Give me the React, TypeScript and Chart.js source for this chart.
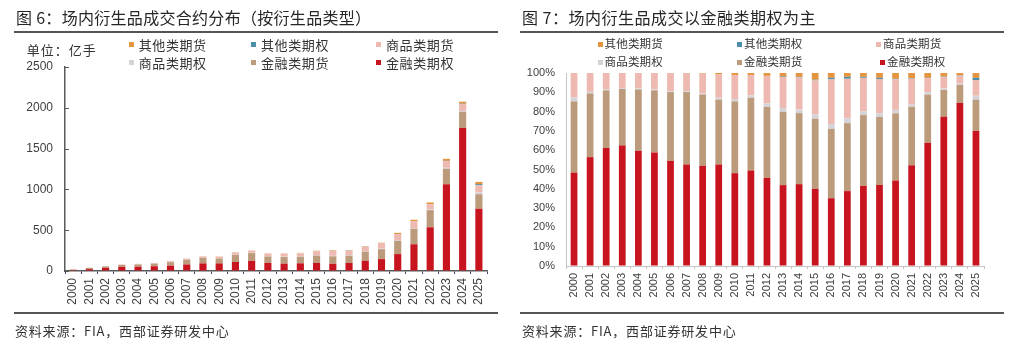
import React, { useEffect, useRef } from "react";
import { Chart, registerables } from "chart.js";

Chart.register(...registerables);

// ---- categories ----
const years = [
  "2000", "2001", "2002", "2003", "2004", "2005", "2006", "2007", "2008", "2009",
  "2010", "2011", "2012", "2013", "2014", "2015", "2016", "2017", "2018", "2019",
  "2020", "2021", "2022", "2023", "2024", "2025",
];

// ---- series, listed bottom-of-stack first ----
const seriesNames = ["金融类期权", "金融类期货", "商品类期权", "商品类期货", "其他类期权", "其他类期货"];
const seriesColors = ["#C8141E", "#BB9B7C", "#D5D3D8", "#EDB9B0", "#4A8FA6", "#E5943F"];

// Fig. 6: traded volume, 亿手
const volFinOptions = [10.6, 23.1, 37.3, 50.6, 52.5, 58.2, 65.4, 80.5, 93.4, 93.6, 110.6, 124.7, 98.7, 89.7, 94.1, 99.2, 88.8, 98.6, 125.7, 145.7, 207.3, 327.8, 535.9, 1062.9, 1751.3, 763.3];
const volFinFutures = [8.1, 13.5, 18.2, 23.7, 28.0, 31.9, 42.7, 57.4, 66.6, 59.8, 85.6, 95.0, 79.3, 81.3, 81.7, 90.0, 91.1, 89.4, 111.2, 122.1, 162.9, 189.7, 210.0, 191.1, 197.1, 178.0];
const volComOptions = [0.4, 0.3, 0.3, 0.4, 0.4, 0.5, 0.6, 0.8, 0.9, 1.8, 2.8, 3.0, 3.9, 4.3, 4.4, 5.5, 6.3, 6.4, 5.5, 6.2, 8.4, 7.5, 10.1, 11.0, 12.5, 21.8];
const volComFutures = [2.8, 4.0, 5.2, 6.3, 7.0, 8.4, 11.3, 14.4, 18.5, 21.4, 28.8, 26.7, 30.9, 34.2, 36.6, 43.9, 58.4, 52.1, 53.0, 62.1, 73.9, 84.2, 61.3, 82.5, 85.1, 88.5];
const volOtherOptions = [0, 0, 0, 0, 0, 0, 0, 0, 0, 0, 0, 0, 0, 0.6, 0.7, 0.7, 2.0, 2.5, 1.5, 2.1, 1.4, 1.3, 1.7, 2.8, 4.2, 13.1];
const volOtherFutures = [0, 0, 0, 0, 0, 0, 0, 0, 0.5, 1.4, 2.3, 2.5, 3.2, 3.9, 4.4, 8.7, 6.3, 5.1, 6.1, 8.7, 14.0, 17.6, 21.0, 24.8, 24.9, 27.3];

// Fig. 7: share of traded volume, %
const shareFinOptions = [48.4, 56.4, 61.2, 62.5, 59.7, 58.8, 54.5, 52.6, 51.9, 52.6, 48.1, 49.5, 45.7, 41.9, 42.4, 40.0, 35.1, 38.8, 41.5, 42.0, 44.3, 52.2, 63.8, 77.3, 84.4, 69.9];
const shareFinFutures = [36.9, 33.0, 29.8, 29.2, 31.8, 32.2, 35.6, 37.5, 37.0, 33.6, 37.2, 37.7, 36.7, 38.0, 36.8, 36.3, 36.0, 35.2, 36.7, 35.2, 34.8, 30.2, 25.0, 13.9, 9.5, 16.3];
const shareComOptions = [2.0, 0.8, 0.5, 0.5, 0.5, 0.5, 0.5, 0.5, 0.5, 1.0, 1.2, 1.2, 1.8, 2.0, 2.0, 2.2, 2.5, 2.5, 1.8, 1.8, 1.8, 1.2, 1.2, 0.8, 0.6, 2.0];
const shareComFutures = [12.7, 9.8, 8.5, 7.8, 8.0, 8.5, 9.4, 9.4, 10.3, 12.0, 12.5, 10.6, 14.3, 16.0, 16.5, 17.7, 23.1, 20.5, 17.5, 17.9, 15.8, 13.4, 7.3, 6.0, 4.1, 8.1];
const shareOtherOptions = [0, 0, 0, 0, 0, 0, 0, 0, 0, 0, 0, 0, 0, 0.3, 0.3, 0.3, 0.8, 1.0, 0.5, 0.6, 0.3, 0.2, 0.2, 0.2, 0.2, 1.2];
const shareOtherFutures = [0, 0, 0, 0, 0, 0, 0, 0, 0.3, 0.8, 1.0, 1.0, 1.5, 1.8, 2.0, 3.5, 2.5, 2.0, 2.0, 2.5, 3.0, 2.8, 2.5, 1.8, 1.2, 2.5];

// ---- axis settings ----
const volumeMax = 2500;
const volumeStep = 500;
const shareMax = 100;
const shareStep = 10;

const FONT_CJK = '"Noto Sans CJK SC", "Noto Sans", sans-serif';
const FONT_NUM = '"Liberation Sans", Arial, sans-serif';
const FONT_NARROW = '"Liberation Sans Narrow", "Liberation Sans", Arial, sans-serif';

// short tick marks drawn on the inner side of the value axis
const innerYTicks = {
  id: "innerYTicks",
  afterDraw(chart: any, _args: any, opts: any) {
    if (!opts || !opts.length) return;
    const s = chart.scales.y;
    const ctx = chart.ctx;
    ctx.save();
    ctx.strokeStyle = opts.color;
    ctx.lineWidth = opts.width;
    s.ticks.forEach((t: any) => {
      const py = Math.round(s.getPixelForValue(t.value)) + 0.5;
      ctx.beginPath();
      ctx.moveTo(s.right, py);
      ctx.lineTo(s.right + opts.length, py);
      ctx.stroke();
    });
    ctx.restore();
  },
};

type Frame = {
  padTop: number;
  padRight: number;
  yWidth: number;
  xHeight: number;
  barPct: number;
  yMax: number;
  yStep: number;
  yFmt: (v: number) => string;
  yFont: any;
  xFont: any;
  yPad: number;
  axisColor: string;
  axisWidth: number;
  tickColor: string;
  innerTick: number;
};

function stackedConfig(series: number[][], f: Frame): any {
  return {
    type: "bar",
    data: {
      labels: years,
      datasets: series.map((values, i) => ({
        label: seriesNames[i],
        data: values,
        backgroundColor: seriesColors[i],
        borderWidth: 0,
        barPercentage: f.barPct,
        categoryPercentage: 1,
      })),
    },
    options: {
      responsive: false,
      animation: false,
      devicePixelRatio: 1,
      events: [],
      layout: { padding: { top: f.padTop, right: f.padRight, bottom: 0, left: 0 } },
      plugins: {
        legend: { display: false },
        tooltip: { enabled: false },
        innerYTicks: { length: f.innerTick, color: f.axisColor, width: 1 },
      },
      scales: {
        x: {
          stacked: true,
          afterFit: (s: any) => {
            s.height = f.xHeight;
          },
          grid: {
            display: true,
            drawOnChartArea: false,
            drawTicks: true,
            tickLength: 3,
            color: f.tickColor,
            offset: true,
          },
          border: { display: true, color: f.axisColor, width: f.axisWidth },
          ticks: {
            autoSkip: false,
            minRotation: 90,
            maxRotation: 90,
            padding: 4,
            color: "#404040",
            font: f.xFont,
          },
        },
        y: {
          stacked: true,
          min: 0,
          max: f.yMax,
          afterFit: (s: any) => {
            s.width = f.yWidth;
          },
          grid: { display: true, drawOnChartArea: false, drawTicks: false },
          border: { display: true, color: f.axisColor, width: f.axisWidth },
          ticks: {
            stepSize: f.yStep,
            padding: f.yPad,
            color: "#404040",
            font: f.yFont,
            callback: (v: any) => f.yFmt(Number(v)),
          },
        },
      },
    },
    plugins: [innerYTicks],
  };
}

function BarCanvas({ left, width, config }: { left: number; width: number; config: () => any }) {
  const ref = useRef<HTMLCanvasElement>(null);
  useEffect(() => {
    const chart = new Chart(ref.current as HTMLCanvasElement, config());
    return () => chart.destroy();
  }, []);
  return (
    <canvas
      ref={ref}
      width={width}
      height={354}
      style={{ position: "absolute", left, top: 0, width, height: 354 }}
    />
  );
}

function Label({ x, cy, size, spacing = 0, children, color = "#333" }: any) {
  return (
    <div
      style={{
        position: "absolute",
        left: x,
        top: cy - size * 0.75,
        height: size * 1.5,
        lineHeight: `${size * 1.5}px`,
        fontSize: size,
        letterSpacing: spacing,
        whiteSpace: "nowrap",
        color,
      }}
    >
      {children}
    </div>
  );
}

function Rule({ x1, x2, y }: { x1: number; x2: number; y: number }) {
  return (
    <div style={{ position: "absolute", left: x1, top: y - 1, width: x2 - x1, height: 2, background: "#555" }} />
  );
}

function LegendEntry({ x, cy, idx, size, gap, spacing }: any) {
  return (
    <>
      <div
        style={{
          position: "absolute",
          left: x,
          top: cy - 2.5,
          width: 5,
          height: 5,
          background: seriesColors[idx],
        }}
      />
      <Label x={x + 5 + gap} cy={cy} size={size} spacing={spacing}>
        {seriesNames[idx]}
      </Label>
    </>
  );
}

// legend order: top of stack first, three per row
const legendOrder = [5, 4, 3, 2, 1, 0];

export default function App() {
  const leftCols = [128.7, 251, 376];
  const rightCols = [597.5, 737, 876];

  return (
    <div
      style={{
        position: "fixed",
        left: 0,
        top: 0,
        width: 1025,
        height: 354,
        background: "#fff",
        overflow: "hidden",
        fontFamily: FONT_CJK,
      }}
    >
      <BarCanvas
        left={0}
        width={512}
        config={() =>
          stackedConfig(
            [volFinOptions, volFinFutures, volComOptions, volComFutures, volOtherOptions, volOtherFutures],
            {
              padTop: 67,
              padRight: 25,
              yWidth: 65,
              xHeight: 83,
              barPct: 0.44,
              yMax: volumeMax,
              yStep: volumeStep,
              yFmt: (v) => String(v),
              yFont: { family: FONT_NUM, size: 12 },
              xFont: { family: FONT_NUM, size: 12 },
              yPad: 12,
              axisColor: "#5a5a5a",
              axisWidth: 1.5,
              tickColor: "#3a4a6a",
              innerTick: 4,
            }
          )
        }
      />
      <BarCanvas
        left={512}
        width={513}
        config={() =>
          stackedConfig(
            [shareFinOptions, shareFinFutures, shareComOptions, shareComFutures, shareOtherOptions, shareOtherFutures],
            {
              padTop: 73,
              padRight: 41,
              yWidth: 54,
              xHeight: 88,
              barPct: 0.42,
              yMax: shareMax,
              yStep: shareStep,
              yFmt: (v) => `${v}%`,
              yFont: { family: FONT_NARROW, size: 11 },
              xFont: { family: FONT_NUM, size: 11 },
              yPad: 11,
              axisColor: "#c4c4c4",
              axisWidth: 1,
              tickColor: "#c4c4c4",
              innerTick: 0,
            }
          )
        }
      />

      {/* left panel */}
      <Label x={16} cy={16.7} size={16} spacing={0.3} color="#262626">
        图 6：场内衍生品成交合约分布（按衍生品类型）
      </Label>
      <Rule x1={14} x2={498} y={32} />
      <Label x={26.7} cy={49.3} size={13} spacing={1}>
        单位：亿手
      </Label>
      {legendOrder.map((idx, k) => (
        <LegendEntry
          key={`l${idx}`}
          x={leftCols[k % 3]}
          cy={k < 3 ? 44.3 : 62.7}
          idx={idx}
          size={13}
          gap={5}
          spacing={0.6}
        />
      ))}
      <Rule x1={14} x2={498} y={313} />
      <Label x={15} cy={330.7} size={13} spacing={0.8}>
        资料来源：FIA，西部证券研发中心
      </Label>

      {/* right panel */}
      <Label x={522} cy={16.7} size={16} spacing={0.5} color="#262626">
        图 7：场内衍生品成交以金融类期权为主
      </Label>
      <Rule x1={520} x2={1004} y={32} />
      {legendOrder.map((idx, k) => (
        <LegendEntry
          key={`r${idx}`}
          x={rightCols[k % 3] + (k === 5 ? 4 : 0)}
          cy={k < 3 ? 44 : 62}
          idx={idx}
          size={11.5}
          gap={2}
          spacing={0.2}
        />
      ))}
      <Rule x1={520} x2={1004} y={313} />
      <Label x={522} cy={330.7} size={13} spacing={0.8}>
        资料来源：FIA，西部证券研发中心
      </Label>
    </div>
  );
}
